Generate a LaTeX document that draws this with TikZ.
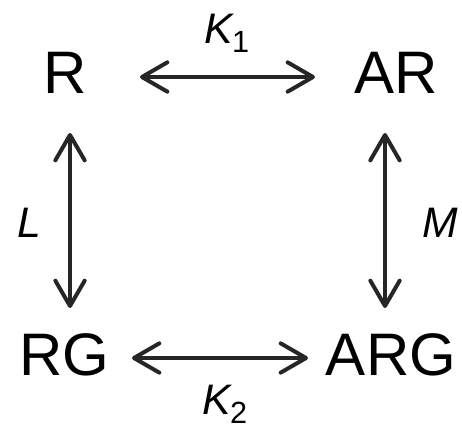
\documentclass[tikz,border=0pt]{standalone}
\usepackage{fontspec}
\setmainfont{Liberation Sans}
\usetikzlibrary{arrows.meta}
\newcommand{\ratesub}[1]{\kern-0.5pt\raisebox{-7pt}{\upshape\fontsize{23}{26}\selectfont #1}}
\tikzset{
  species/.style={inner sep=0pt, anchor=base, font=\fontsize{45}{50}\selectfont, text=black},
  rate/.style={inner sep=0pt, anchor=base, font=\fontsize{32}{36}\selectfont\itshape, text=black},
  dbl/.style={line width=3pt, draw=black!85, line cap=round,
    {Straight Barb[length=19pt,width=22pt,line cap=round,line join=round]}-{Straight Barb[length=19pt,width=22pt,line cap=round,line join=round]}}
}
\begin{document}
\begin{tikzpicture}[x=0.75pt,y=-0.75pt]
\useasboundingbox (0,0) rectangle (462,430);
\node[species] (R) at (65,93) {R};
\node[species] (AR) at (396,93) {AR};
\node[species] (RG) at (64,375) {RG};
\node[species] (ARG) at (391,375) {ARG};
\node[rate, anchor=base west] (K1) at (204,43) {K\ratesub{1}};
\node[rate, anchor=base west] (K2) at (202,414) {K\ratesub{2}};
\node[rate] (L) at (29,237) {L};
\node[rate] (M) at (440,237) {M};
\coordinate (a1) at (140,77);
\coordinate (a2) at (315,77);
\coordinate (b1) at (132,358);
\coordinate (b2) at (308,358);
\coordinate (c1) at (70,133);
\coordinate (c2) at (70,308);
\coordinate (d1) at (385,133);
\coordinate (d2) at (385,308);
\draw[dbl] (a1) -- (a2);
\draw[dbl] (b1) -- (b2);
\draw[dbl] (c1) -- (c2);
\draw[dbl] (d1) -- (d2);
\end{tikzpicture}
\end{document}
